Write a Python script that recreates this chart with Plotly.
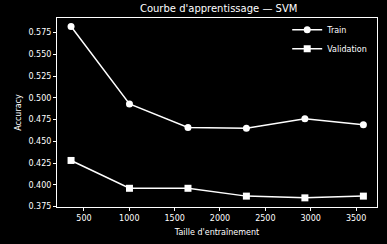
import plotly.graph_objects as go

train_sizes = [358, 1002, 1647, 2291, 2936, 3581]
train_scores = [0.582, 0.493, 0.466, 0.465, 0.476, 0.469]
val_scores = [0.428, 0.396, 0.396, 0.387, 0.385, 0.387]
x_ticks = [500, 1000, 1500, 2000, 2500, 3000, 3500]
y_ticks = [0.375, 0.400, 0.425, 0.450, 0.475, 0.500, 0.525, 0.550, 0.575]

fig = go.Figure()
fig.add_trace(go.Scatter(x=train_sizes, y=train_scores, mode="lines+markers", name="Train",
                         line=dict(color="white", width=1.5),
                         marker=dict(symbol="circle", size=7, color="white")))
fig.add_trace(go.Scatter(x=train_sizes, y=val_scores, mode="lines+markers", name="Validation",
                         line=dict(color="white", width=1.5),
                         marker=dict(symbol="square", size=7, color="white")))

axis_common = dict(showgrid=False, zeroline=False, showline=True, linecolor="white", linewidth=1,
                   mirror=True, ticks="outside", tickcolor="white", ticklen=3,
                   tickfont=dict(color="white", size=8, family="DejaVu Sans"))
fig.update_layout(
    width=387, height=244,
    paper_bgcolor="black", plot_bgcolor="black",
    margin=dict(l=57, r=9, t=18, b=31),
    title=dict(text="Courbe d'apprentissage — SVM", x=0.565, xanchor="center", y=0.965, yanchor="middle",
               font=dict(color="white", size=10, family="DejaVu Sans")),
    xaxis=dict(range=[203, 3731], tickvals=x_ticks, ticktext=[str(v) for v in x_ticks],
               title=dict(text="Taille d'entraînement", font=dict(color="white", size=8, family="DejaVu Sans"), standoff=7),
               **axis_common),
    yaxis=dict(range=[0.3745, 0.5917], tickvals=y_ticks, ticktext=[f"{v:.3f}" for v in y_ticks],
               title=dict(text="Accuracy", font=dict(color="white", size=8, family="DejaVu Sans"), standoff=5),
               **axis_common),
    legend=dict(x=0.985, y=1.015, xanchor="right", yanchor="top", bgcolor="rgba(0,0,0,0)",
                font=dict(color="white", size=8, family="DejaVu Sans"), itemwidth=30,
                tracegroupgap=0),
    showlegend=True,
)
fig.write_html("out.html")
